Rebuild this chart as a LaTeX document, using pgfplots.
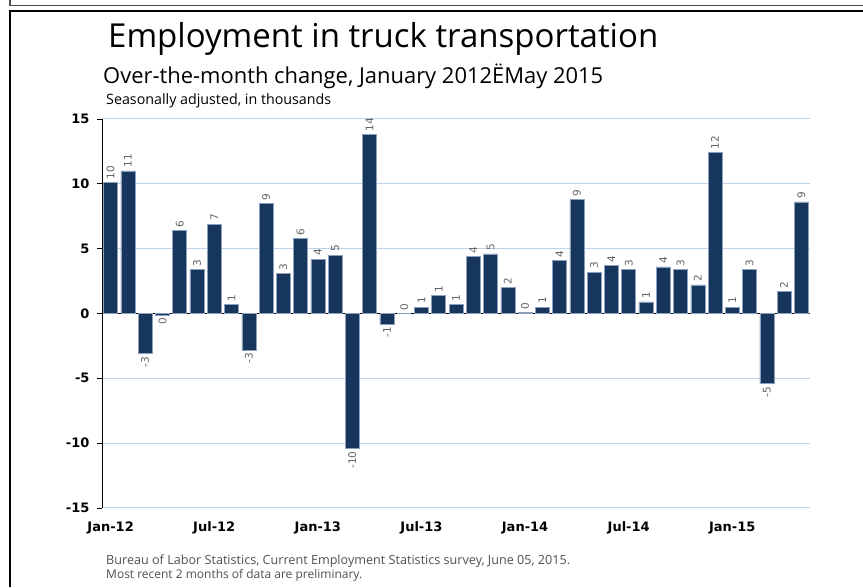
\documentclass[border=0pt]{standalone}
\usepackage{pgfplots}
\pgfplotsset{compat=1.18}
\usepackage{pgfplotstable}
\usepackage{fontspec}
\setmainfont{Open Sans}
\newfontfamily\dejavu{DejaVu Sans}
\definecolor{barfill}{RGB}{23,54,93}
\definecolor{baredge}{RGB}{140,160,190}
\definecolor{gridc}{RGB}{190,210,235}
\definecolor{lblgray}{RGB}{100,100,100}
\definecolor{footgray}{RGB}{80,80,80}

\pgfplotstableread{
x y lab
0 10.1 10
1 11.0 11
2 -3.1 -3
3 -0.1 0
4 6.4 6
5 3.4 3
6 6.9 7
7 0.7 1
8 -2.8 -3
9 8.5 9
10 3.1 3
11 5.8 6
12 4.2 4
13 4.5 5
14 -10.4 -10
15 13.8 14
16 -0.8 -1
17 0.0 0
18 0.5 1
19 1.4 1
20 0.7 1
21 4.4 4
22 4.6 5
23 2.0 2
24 0.1 0
25 0.5 1
26 4.1 4
27 8.8 9
28 3.2 3
29 3.7 4
30 3.4 3
31 0.9 1
32 3.6 4
33 3.4 3
34 2.2 2
35 12.4 12
36 0.5 1
37 3.4 3
38 -5.4 -5
39 1.7 2
40 8.6 9
}\truckdata

\begin{document}
\begin{tikzpicture}[x=1pt,y=1pt]
\useasboundingbox (0,0) rectangle (863,587);
\draw[line width=1.6pt] (10,0) -- (10,576) -- (863,576);
\draw[line width=1.2pt, black!70] (10,587) -- (10,581.5) -- (863,581.5);
\node[anchor=base west, inner sep=0] at (108,539) {\resizebox{550pt}{!}{\fontsize{30}{36}\selectfont Employment in truck transportation}};
\node[anchor=base west, inner sep=0] at (103,503) {\resizebox{500pt}{!}{\fontsize{18}{22}\selectfont Over-the-month change, January 2012ËMay 2015}};
\node[anchor=base west, inner sep=0] at (106,482) {\resizebox{225pt}{!}{\fontsize{12}{14}\selectfont Seasonally adjusted, in thousands}};
\node[anchor=base west, inner sep=0, text=footgray] at (106,23) {\resizebox{464pt}{!}{\fontsize{10}{12}\selectfont Bureau of Labor Statistics, Current Employment Statistics survey, June 05, 2015.}};
\node[anchor=base west, inner sep=0, text=footgray] at (106,9) {\resizebox{256pt}{!}{\fontsize{10}{12}\selectfont Most recent 2 months of data are preliminary.}};
\begin{axis}[
  at={(102pt,79pt)}, anchor=south west,
  width=708pt, height=389pt, scale only axis,
  xmin=-0.5, xmax=40.5, ymin=-15, ymax=15,
  axis y line*=left, axis x line*=bottom,
  x axis line style={draw=none},
  y axis line style={black, line width=1pt},
  ytick={-15,-10,-5,5,10,15},
  extra y ticks={0},
  extra y tick style={grid=major, grid style={black, line width=1.2pt}},
  ymajorgrids, grid style={gridc, line width=1pt},
  xtick={0,6,12,18,24,30,36},
  xticklabels={Jan-12,Jul-12,Jan-13,Jul-13,Jan-14,Jul-14,Jan-15},
  xtick style={draw=none},
  tick align=outside, major tick length=5pt,
  ytick style={black, line width=0.8pt},
  tick label style={font=\dejavu\bfseries\fontsize{13}{15}\selectfont},
  yticklabel style={xshift=-4pt},
  xticklabel style={yshift=-5pt},
  /pgf/number format/assume math mode=true,
  clip=false,
]
\addplot[ybar, bar width=0.81, fill=barfill, draw=baredge, line width=0.5pt] table[x=x, y=y] {\truckdata};
\addplot[draw=none, nodes near coords, point meta=explicit symbolic,
  restrict y to domain=0:20,
  every node near coord/.append style={rotate=90, anchor=west, font=\dejavu\fontsize{10.5}{12}\selectfont, text=lblgray, inner sep=3pt}]
  table[x=x, y=y, meta=lab] {\truckdata};
\addplot[draw=none, nodes near coords, point meta=explicit symbolic,
  restrict y to domain=-20:-0.01,
  every node near coord/.append style={rotate=90, anchor=east, font=\dejavu\fontsize{10.5}{12}\selectfont, text=lblgray, inner sep=3pt}]
  table[x=x, y=y, meta=lab] {\truckdata};
\end{axis}
\end{tikzpicture}
\end{document}
